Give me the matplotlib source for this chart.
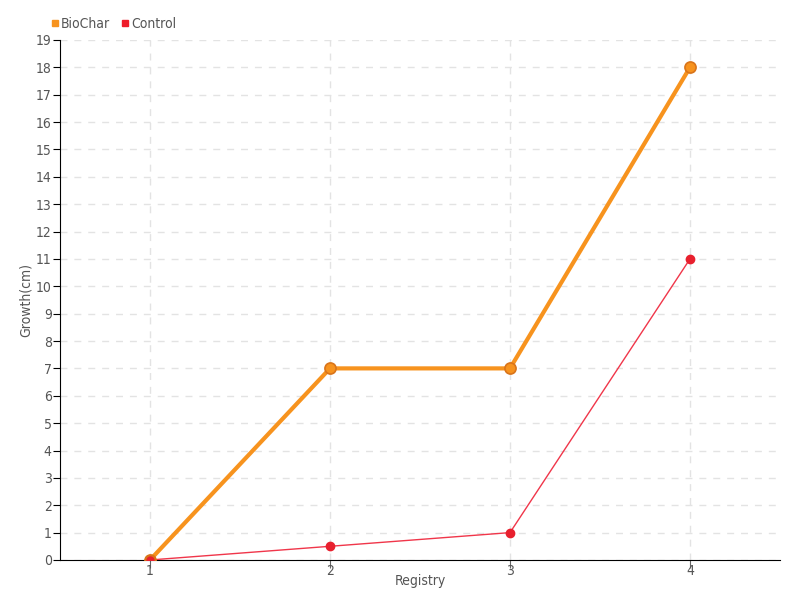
import matplotlib.pyplot as plt
from matplotlib.lines import Line2D

registry = [1, 2, 3, 4]
biochar = [0, 7, 7, 18]
control = [0, 0.5, 1, 11]

plt.rcParams['font.family'] = ['DejaVu Sans']
plt.rcParams['font.stretch'] = 'condensed'

fig = plt.figure(figsize=(8, 6), dpi=100)
ax = fig.add_axes([0.075, 0.0667, 0.9, 0.8667])

ax.plot(registry, control, color='#f0364a', linewidth=1, marker='o', markersize=6,
        markerfacecolor='#e8202e', markeredgecolor='#e8202e', zorder=3)
ax.plot(registry, biochar, color='#f7931e', linewidth=3, marker='o', markersize=8,
        markerfacecolor='#f7931e', markeredgecolor='#d9741a', markeredgewidth=1.2, zorder=4)
# control start point drawn on top as in reference
ax.plot(registry[:1], control[:1], 'o', color='#e8202e', markersize=7,
        markeredgecolor='#d9741a', zorder=5)

ax.set_xlim(0.5, 4.5)
ax.set_ylim(0, 19)
ax.set_xticks(registry)
ax.set_yticks(range(0, 20))
ax.grid(True, linestyle=(0, (5, 5)), color='#e3e3e3', linewidth=1)
ax.set_axisbelow(True)

for s in ['top', 'right']:
    ax.spines[s].set_visible(False)
ax.spines['left'].set_color('black')
ax.spines['bottom'].set_color('black')
ax.tick_params(axis='both', labelsize=10, labelcolor='#555555')
ax.tick_params(axis='y', length=5, color='black', pad=1)
ax.tick_params(axis='x', length=6, color='#666666', pad=-3)

ax.set_xlabel('Registry', fontsize=10, color='#555555')
ax.set_ylabel('Growth(cm)', fontsize=10, color='#555555')
ax.xaxis.set_label_coords(0.5, -0.040)
ax.yaxis.set_label_coords(-0.047, 0.5)
ax.xaxis.label.set_va('center')
ax.yaxis.label.set_va('center')

handles = [Line2D([], [], linestyle='none', marker='s', markersize=5, color='#f7931e'),
           Line2D([], [], linestyle='none', marker='s', markersize=5, color='#ee1c2a')]
fig.legend(handles, ['BioChar', 'Control'], loc='upper left', bbox_to_anchor=(0.045, 0.993),
           ncol=2, frameon=False, fontsize=10, handletextpad=-0.1, columnspacing=0.6,
           handlelength=1.0, labelcolor='#555555')

fig.savefig('out.png')
